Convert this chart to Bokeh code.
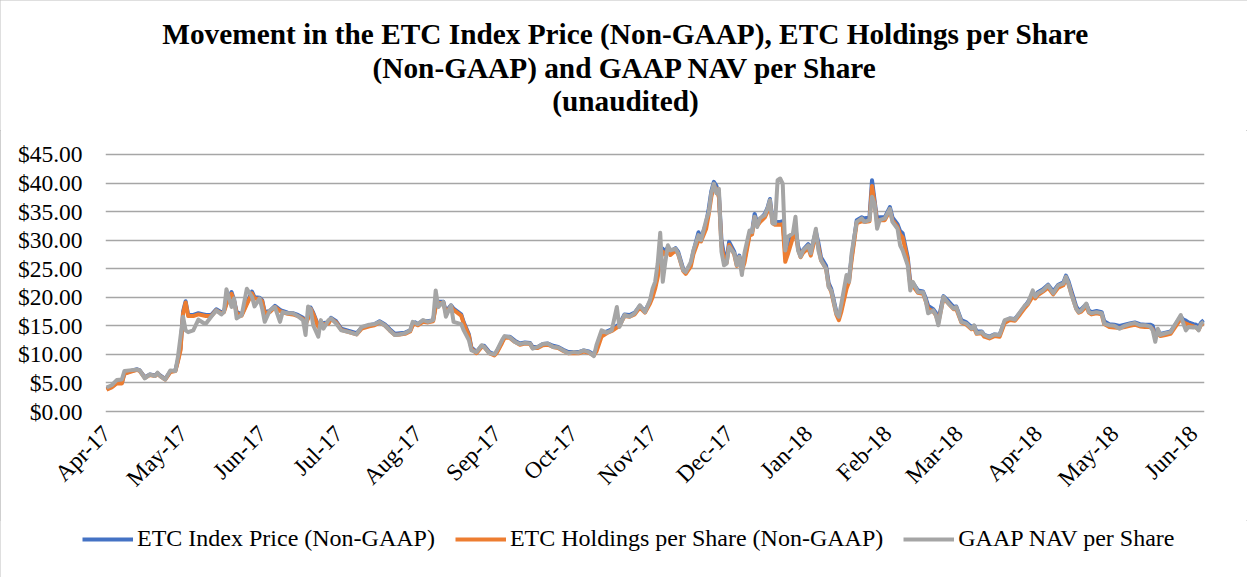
import math
from datetime import datetime, timedelta

from bokeh.plotting import figure
from bokeh.layouts import column
from bokeh.models import (Range1d, FixedTicker, NumeralTickFormatter,
                          DatetimeTickFormatter, Legend, LegendItem, Label)
from bokeh.embed import file_html
from bokeh.resources import INLINE

# ---------------- data ----------------
start_date = "2017-04-01"
day_offsets = [
    0, 2, 4, 6, 7, 9, 12, 13, 15, 17, 19, 20, 21, 23, 25, 27, 28, 29, 30, 31,
    32, 34, 36, 38, 39, 41, 43, 45, 46, 47, 49, 50, 51, 53, 55, 57, 58, 60, 61, 62,
    64, 66, 68, 69, 71, 73, 75, 77, 78, 79, 80, 81, 83, 84, 85, 87, 88, 90, 92, 95,
    98, 100, 103, 105, 107, 109, 111, 113, 115, 117, 119, 120, 121, 122, 124, 126, 128, 129, 130, 132,
    133, 135, 136, 139, 140, 142, 143, 145, 147, 148, 150, 152, 153, 155, 156, 158, 160, 162, 164, 166,
    167, 169, 171, 173, 175, 177, 179, 181, 183, 185, 187, 189, 191, 192, 194, 196, 198, 200, 201, 203,
    205, 207, 209, 211, 213, 214, 215, 216, 217, 218, 219, 220, 221, 223, 224, 226, 227, 229, 230, 232,
    233, 235, 236, 237, 238, 239, 240, 241, 242, 243, 244, 246, 247, 248, 249, 250, 252, 253, 254, 255,
    256, 258, 259, 260, 261, 262, 263, 264, 265, 266, 267, 269, 270, 271, 272, 273, 275, 276, 278, 279,
    280, 282, 283, 284, 286, 287, 288, 290, 291, 292, 294, 296, 297, 299, 300, 301, 302, 303, 305, 307,
    308, 310, 311, 312, 314, 315, 316, 318, 320, 321, 322, 324, 325, 326, 328, 330, 332, 333, 335, 337,
    339, 340, 341, 343, 344, 346, 348, 350, 352, 354, 356, 358, 360, 361, 363, 364, 365, 367, 369, 371,
    373, 375, 376, 377, 378, 380, 381, 382, 384, 385, 386, 388, 390, 391, 393, 395, 397, 399, 401, 403,
    405, 407, 409, 410, 411, 412, 413, 415, 417, 419, 421, 422, 423, 424, 426, 427, 428, 429, 430,
]
nav_per_share = [
    4.2, 4.6, 5.5, 5.6, 7.1, 7.2, 7.35, 7.2, 5.8, 6.5, 6.2, 6.8, 6.2, 5.6, 7.2, 7.1, 9.6, 13.1, 16.6, 14.2,
    13.9, 14.2, 16.1, 15.5, 15.4, 16.6, 17.7, 17.0, 17.4, 21.4, 18.3, 19.8, 16.3, 16.9, 21.5, 20.1, 18.4, 19.8, 18.0, 15.7,
    17.7, 18.3, 15.7, 17.4, 17.2, 17.2, 16.7, 16.0, 13.4, 18.4, 17.9, 15.1, 13.1, 16.0, 14.5, 16.0, 16.3, 15.4, 14.2, 13.9,
    13.5, 14.8, 15.2, 15.3, 15.7, 15.1, 14.2, 13.4, 13.5, 13.7, 14.2, 15.7, 15.5, 15.3, 16.0, 15.7, 16.0, 21.2, 18.3, 19.2,
    16.6, 18.6, 15.7, 15.3, 14.2, 12.5, 10.7, 10.4, 11.6, 11.3, 10.2, 10.0, 10.7, 12.5, 13.2, 13.0, 12.2, 11.8, 12.0, 11.9,
    11.0, 11.3, 11.8, 11.9, 11.3, 11.2, 10.7, 10.2, 10.4, 10.3, 10.7, 10.4, 9.7, 11.6, 14.2, 13.8, 14.2, 18.3, 14.8, 16.9,
    16.6, 17.2, 18.6, 17.4, 19.5, 21.5, 22.7, 25.9, 31.3, 22.7, 26.2, 29.1, 28.2, 28.5, 27.7, 24.7, 24.4, 26.2, 28.2, 30.9,
    30.0, 33.5, 34.9, 38.2, 39.9, 38.2, 39.0, 28.0, 25.6, 25.9, 28.8, 27.7, 25.6, 27.1, 23.9, 27.7, 31.7, 31.4, 34.1, 32.3,
    33.8, 34.4, 35.5, 37.0, 32.9, 32.9, 40.5, 40.8, 39.9, 28.2, 30.6, 31.2, 34.1, 28.2, 27.1, 28.2, 29.1, 27.7, 32.0, 28.2,
    26.5, 25.0, 21.8, 21.2, 17.2, 16.6, 18.9, 23.9, 22.7, 27.7, 33.2, 33.8, 33.2, 33.5, 37.6, 36.4, 32.0, 33.5, 33.8, 35.5,
    33.2, 32.0, 29.1, 28.2, 25.6, 21.2, 22.7, 20.9, 20.9, 19.5, 17.2, 17.7, 16.9, 15.1, 20.1, 18.9, 18.0, 18.3, 15.7, 15.4,
    14.5, 15.1, 13.7, 13.9, 13.4, 13.0, 13.5, 13.4, 16.0, 16.3, 16.1, 17.4, 18.6, 18.9, 21.2, 20.1, 20.7, 21.2, 22.1, 20.7,
    22.1, 22.4, 23.6, 22.4, 20.7, 18.0, 17.4, 17.7, 18.9, 17.4, 17.2, 17.4, 17.2, 15.4, 15.1, 15.0, 14.5, 15.0, 15.3, 15.5,
    15.1, 15.1, 14.9, 14.2, 12.2, 14.5, 13.4, 13.7, 13.9, 15.4, 16.9, 15.4, 14.2, 14.8, 14.7, 14.8, 14.2, 15.4, 15.7,
]
index_price = [
    3.9, 4.3, 5.0, 5.0, 6.7, 7.0, 7.4, 7.2, 6.0, 6.5, 6.3, 6.7, 6.3, 5.7, 7.0, 7.2, 9.0, 11.0, 17.5, 19.3,
    16.9, 16.9, 17.2, 17.0, 16.9, 16.9, 17.9, 17.4, 17.6, 19.0, 20.9, 19.5, 17.4, 17.0, 19.0, 21.0, 20.0, 19.9, 19.5, 17.4,
    17.6, 18.5, 17.8, 17.6, 17.3, 17.2, 16.9, 16.4, 15.5, 16.5, 18.2, 17.3, 15.0, 15.0, 15.5, 15.6, 16.4, 15.8, 14.5, 14.1,
    13.7, 14.7, 15.1, 15.3, 15.8, 15.3, 14.4, 13.6, 13.7, 13.8, 14.2, 15.3, 15.6, 15.3, 15.9, 15.8, 16.0, 18.5, 19.2, 19.2,
    17.5, 18.6, 18.0, 17.0, 15.6, 13.5, 11.2, 10.4, 11.5, 11.5, 10.4, 10.0, 10.5, 12.2, 13.1, 13.1, 12.4, 11.9, 12.1, 12.0,
    11.3, 11.3, 11.8, 11.9, 11.5, 11.3, 10.8, 10.4, 10.4, 10.4, 10.7, 10.5, 10.0, 10.9, 13.5, 14.0, 14.4, 15.0, 15.3, 17.0,
    16.9, 17.3, 18.5, 17.6, 19.2, 20.5, 22.0, 24.0, 27.0, 28.5, 28.0, 28.8, 28.0, 28.6, 28.0, 25.0, 24.5, 25.9, 28.0, 31.4,
    30.3, 33.0, 35.5, 38.5, 40.2, 39.5, 38.0, 30.0, 27.4, 26.5, 29.7, 28.0, 26.0, 27.3, 25.0, 26.5, 31.3, 31.5, 34.6, 33.0,
    33.6, 34.6, 35.6, 37.2, 33.5, 33.2, 33.2, 33.2, 33.3, 28.0, 29.5, 31.0, 32.0, 29.0, 27.5, 28.3, 29.3, 28.0, 31.5, 29.5,
    27.0, 25.5, 22.5, 21.5, 17.5, 16.6, 18.0, 22.0, 23.2, 27.0, 33.5, 34.0, 33.8, 34.0, 40.5, 37.0, 33.5, 34.0, 34.0, 35.8,
    34.0, 32.8, 31.6, 31.2, 27.0, 22.5, 22.5, 21.2, 21.0, 19.9, 18.5, 17.9, 17.3, 16.0, 20.2, 19.3, 18.3, 18.4, 16.0, 15.6,
    14.8, 15.0, 14.0, 14.0, 13.4, 13.1, 13.5, 13.4, 15.8, 16.3, 16.2, 17.3, 18.5, 19.1, 20.6, 20.3, 20.9, 21.4, 22.2, 21.0,
    22.2, 22.6, 23.8, 22.8, 21.3, 18.4, 17.7, 17.9, 18.8, 17.7, 17.4, 17.6, 17.4, 15.8, 15.3, 15.2, 15.0, 15.2, 15.4, 15.6,
    15.3, 15.2, 15.2, 15.0, 13.5, 14.2, 13.6, 13.8, 14.0, 15.3, 16.6, 16.1, 15.9, 15.6, 15.3, 15.2, 14.8, 15.6, 16.0,
]
holdings_per_share = [
    3.8, 4.2, 4.9, 4.9, 6.6, 6.9, 7.3, 7.1, 5.9, 6.4, 6.2, 6.6, 6.2, 5.6, 6.9, 7.1, 8.8, 10.7, 17.2, 19.1,
    16.7, 16.7, 17.0, 16.8, 16.7, 16.7, 17.7, 17.2, 17.4, 18.8, 20.6, 19.3, 17.2, 16.8, 18.8, 20.7, 19.8, 19.7, 19.3, 17.2,
    17.4, 18.3, 17.6, 17.4, 17.1, 17.0, 16.7, 16.2, 15.3, 16.3, 18.0, 17.1, 14.8, 14.8, 15.3, 15.4, 16.2, 15.6, 14.3, 13.9,
    13.5, 14.5, 14.9, 15.1, 15.6, 15.1, 14.2, 13.4, 13.5, 13.6, 14.0, 15.1, 15.4, 15.1, 15.7, 15.6, 15.8, 18.3, 19.0, 19.0,
    17.3, 18.4, 17.8, 16.8, 15.4, 13.3, 11.0, 10.2, 11.3, 11.3, 10.2, 9.8, 10.3, 12.0, 12.9, 12.9, 12.2, 11.7, 11.9, 11.8,
    11.1, 11.1, 11.6, 11.7, 11.3, 11.1, 10.6, 10.2, 10.2, 10.2, 10.5, 10.3, 9.8, 10.5, 13.1, 13.7, 14.1, 14.7, 15.0, 16.7,
    16.6, 17.0, 18.2, 17.3, 18.9, 20.0, 21.5, 23.5, 26.5, 28.0, 27.5, 28.3, 27.4, 28.2, 27.6, 24.6, 24.1, 25.4, 27.5, 30.0,
    29.8, 32.0, 34.5, 37.5, 39.5, 39.0, 37.5, 29.0, 26.8, 26.0, 29.2, 27.5, 25.5, 27.0, 24.6, 26.0, 30.8, 31.0, 34.0, 32.5,
    33.1, 34.0, 35.0, 36.5, 33.0, 32.7, 32.7, 32.7, 32.8, 26.2, 27.5, 30.5, 31.5, 28.5, 27.0, 27.8, 28.6, 27.3, 31.0, 28.8,
    26.5, 25.0, 22.0, 21.0, 17.0, 16.0, 17.5, 21.5, 22.7, 26.5, 33.0, 33.3, 33.2, 33.3, 39.5, 36.5, 33.0, 33.5, 33.5, 35.2,
    33.5, 32.3, 31.0, 30.5, 26.5, 22.0, 22.0, 20.8, 20.6, 19.4, 18.0, 17.5, 16.9, 15.6, 19.8, 18.9, 17.9, 18.0, 15.6, 15.2,
    14.4, 14.6, 13.6, 13.7, 13.1, 12.8, 13.2, 13.1, 15.5, 16.0, 15.9, 17.0, 18.2, 18.7, 20.2, 19.8, 20.4, 21.0, 21.7, 20.5,
    21.7, 22.1, 23.2, 22.3, 20.8, 18.0, 17.3, 17.5, 18.4, 17.3, 17.0, 17.2, 17.0, 15.3, 14.8, 14.7, 14.6, 14.8, 15.0, 15.2,
    14.9, 14.8, 14.8, 14.4, 13.0, 13.6, 13.2, 13.4, 13.6, 14.9, 16.2, 15.6, 15.4, 15.2, 14.9, 14.7, 14.3, 15.2, 15.5,
]
month_ticks = [
    "2017-04-01", "2017-05-01", "2017-06-01", "2017-07-01", "2017-08-01",
    "2017-09-01", "2017-10-01", "2017-11-01", "2017-12-01", "2018-01-01",
    "2018-02-01", "2018-03-01", "2018-04-01", "2018-05-01", "2018-06-01",
]
y_ticks = [0, 5, 10, 15, 20, 25, 30, 35, 40, 45]
series_names = ["ETC Index Price (Non-GAAP)", "ETC Holdings per Share (Non-GAAP)", "GAAP NAV per Share"]
series_colors = ["#4472C4", "#ED7D31", "#A5A5A5"]
title_lines = [
    "Movement in the ETC Index Price (Non-GAAP), ETC Holdings per Share",
    "(Non-GAAP) and GAAP NAV per Share",
    "(unaudited)",
]

# ---------------- layout constants ----------------
W = 1247
TITLE_H = 130
MAIN_H = 390
LEGEND_H = 57
FONT = "Liberation Serif"

base = datetime.strptime(start_date, "%Y-%m-%d")
dates = [base + timedelta(days=d) for d in day_offsets]
epoch = datetime(1970, 1, 1)
tick_ms = [(datetime.strptime(t, "%Y-%m-%d") - epoch).total_seconds() * 1000.0 for t in month_ticks]


def no_align(f):
    if "frame_align" in f.properties():
        f.frame_align = False


def blank_panel(height):
    f = figure(width=W, height=height, output_backend="svg", toolbar_location=None,
               x_range=Range1d(0, W), y_range=Range1d(0, height),
               x_axis_location=None, y_axis_location=None,
               min_border=0)
    f.grid.visible = False
    f.outline_line_color = None
    f.background_fill_color = "white"
    f.border_fill_color = "white"
    no_align(f)
    return f


# ---------------- title panel ----------------
pt = blank_panel(TITLE_H)
for text, y in zip(title_lines, [TITLE_H - 33, TITLE_H - 67, TITLE_H - 100]):
    pt.add_layout(Label(x=625, y=y, text=text, text_align="center", text_baseline="middle",
                        text_font=FONT, text_font_style="bold", text_font_size="29.3px",
                        text_color="#000000"))

# ---------------- main chart ----------------
p = figure(width=W, height=MAIN_H, x_axis_type="datetime",
           output_backend="svg", toolbar_location=None,
           x_range=Range1d(base - timedelta(days=0.4), base + timedelta(days=430.3)),
           y_range=Range1d(-0.35, 45.35),
           min_border_left=105, min_border_right=43,
           min_border_top=152 - TITLE_H, min_border_bottom=TITLE_H + MAIN_H - 413)
no_align(p)
p.outline_line_color = None
p.background_fill_color = "white"
p.border_fill_color = "white"

p.yaxis.ticker = FixedTicker(ticks=y_ticks)
p.yaxis.formatter = NumeralTickFormatter(format="$0.00")
p.yaxis.axis_line_color = None
p.yaxis.major_tick_line_color = None
p.yaxis.minor_tick_line_color = None
p.yaxis.major_label_standoff = 17
p.yaxis.major_label_text_font = FONT
p.yaxis.major_label_text_font_size = "23.5px"
p.yaxis.major_label_text_color = "#000000"

p.xaxis.ticker = FixedTicker(ticks=tick_ms)
fmt = "%b-%y"
p.xaxis.formatter = DatetimeTickFormatter(
    milliseconds=fmt, seconds=fmt, minsec=fmt, minutes=fmt, hourmin=fmt,
    hours=fmt, days=fmt, months=fmt, years=fmt)
p.xaxis.major_label_orientation = math.pi / 4
p.xaxis.axis_line_color = None
p.xaxis.major_tick_line_color = None
p.xaxis.minor_tick_line_color = None
p.xaxis.major_label_standoff = 10
p.xaxis.major_label_text_font = FONT
p.xaxis.major_label_text_font_size = "23.5px"
p.xaxis.major_label_text_color = "#000000"

p.xgrid.visible = False
p.ygrid.grid_line_color = "#a6a6a6"
p.ygrid.grid_line_width = 1.5

for vals, col in zip([index_price, holdings_per_share, nav_per_share], series_colors):
    p.line(dates, vals, line_color=col, line_width=4, line_join="round")

# ---------------- legend panel ----------------
pl = blank_panel(LEGEND_H)
items = []
for name, col in zip(series_names, series_colors):
    # swatch-only renderer: its single segment lies outside the visible range
    r = pl.line(x=[-100, -90], y=[-100, -100], line_color=col, line_width=4)
    items.append(LegendItem(label=name, renderers=[r]))
legend = Legend(items=items, orientation="horizontal",
                location=(82, LEGEND_H - 32),
                glyph_width=51, glyph_height=24, label_height=24, label_standoff=4,
                spacing=20, padding=0, margin=0,
                border_line_color=None, background_fill_alpha=0,
                label_text_font=FONT, label_text_font_size="24px",
                label_text_color="#000000", label_text_baseline="middle")
pl.add_layout(legend)

layout = column(pt, p, pl, spacing=0,
                styles={"outline": "1px solid #bfbfbf", "outline-offset": "-1px"})
open("out.html", "w").write(file_html(layout, INLINE))
